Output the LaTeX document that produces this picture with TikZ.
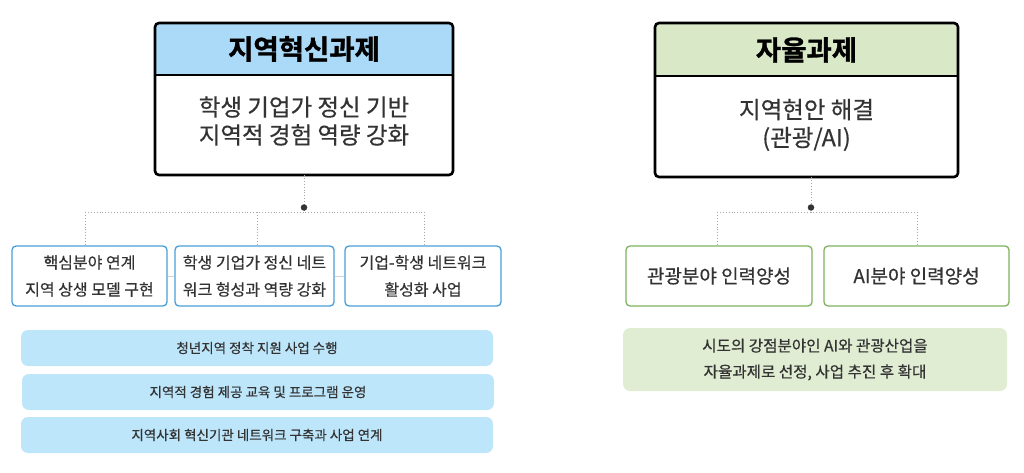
\documentclass[tikz,border=0pt]{standalone}
\usepackage{fontspec}
\setmainfont{Noto Sans CJK KR}
\newfontfamily\medfont{Noto Sans CJK KR}[FakeBold=0.5]
\newfontfamily\heavyfont{Noto Sans CJK KR Bold}[FakeBold=1.2]
\definecolor{hdrblue}{HTML}{ABDAF8}
\definecolor{hdrgreen}{HTML}{D9E9C7}
\definecolor{barblue}{HTML}{BEE6FB}
\definecolor{bargreen}{HTML}{E0EDD3}
\definecolor{bdblue}{HTML}{4A9FD8}
\definecolor{bdgreen}{HTML}{7DB35F}
\definecolor{txt}{HTML}{333333}
\tikzset{
  bigbox/.style={draw=black, line width=2.6pt, rounded corners=4pt, inner sep=0pt, outer sep=0pt},
  subblue/.style={draw=bdblue, line width=1.3pt, fill=white, rounded corners=4pt, inner sep=0pt, align=center, text=txt, font=\medfont\fontsize{16}{27}\selectfont},
  subgreen/.style={draw=bdgreen, line width=1.3pt, fill=white, rounded corners=4pt, inner sep=0pt, align=center, text=txt, font=\medfont\fontsize{19}{27}\selectfont},
  barb/.style={fill=barblue, rounded corners=7pt, inner sep=0pt, align=center, text=txt, font=\medfont\fontsize{13.5}{20}\selectfont},
  barg/.style={fill=bargreen, rounded corners=7pt, inner sep=0pt, align=center, text=txt, font=\medfont\fontsize{15.6}{26}\selectfont},
  dotline/.style={draw=gray!70, dotted, line width=0.9pt},
  hubdot/.style={circle, fill=black!80, inner sep=0pt, minimum size=6.5pt},
  title/.style={font=\heavyfont\fontsize{27.5}{30}\selectfont, text=black},
  bodytxt/.style={font=\medfont\fontsize{23.5}{28}\selectfont, text=txt, align=center},
}
\begin{document}
\begin{tikzpicture}[x=1pt,y=-1pt]
\useasboundingbox (0,0) rectangle (1024,473);
% ---- left big box
\fill[hdrblue] (155,75) [rounded corners=4pt] -- (155,23) -- (453,23) [sharp corners] -- (453,75) -- cycle;
\node[bigbox, minimum width=298pt, minimum height=152pt] (lbox) at (304,99) {};
\draw[line width=2pt] (155,75) -- (453,75);
\node[title] (ltitle) at (304,49) {지역혁신과제};
\node[bodytxt] (lbody) at (304,121) {학생 기업가 정신 기반\\지역적 경험 역량 강화};
% ---- right big box
\fill[hdrgreen] (655,76) [rounded corners=4pt] -- (655,23) -- (958,23) [sharp corners] -- (958,76) -- cycle;
\node[bigbox, minimum width=303pt, minimum height=154pt] (rbox) at (806.5,100) {};
\draw[line width=2pt] (655,76) -- (958,76);
\node[title] (rtitle) at (806.5,50) {자율과제};
\node[bodytxt] (rbody) at (806.5,125) {지역현안 해결\\(관광/AI)};
% ---- left sub boxes
\node[subblue, minimum width=155pt, minimum height=60pt] (b1) at (89.5,276) {핵심분야 연계\\지역 상생 모델 구현};
\node[subblue, minimum width=159pt, minimum height=60pt] (b2) at (254.5,276) {학생 기업가 정신 네트\\워크 형성과 역량 강화};
\node[subblue, minimum width=156pt, minimum height=60pt] (b3) at (423,276) {기업-학생 네트워크\\활성화 사업};
\draw[gray!35, line width=1pt] (b1.east) -- (b2.west);
\draw[gray!35, line width=1pt] (b2.east) -- (b3.west);
% connectors left
\coordinate (lh1) at (85,212);
\coordinate (lh2) at (257,212);
\coordinate (lh3) at (424,212);
\coordinate (lhub) at (304,212);
\draw[dotline] (lbox.south) -- (lhub);
\draw[dotline] (lh1) -- (lh3);
\draw[dotline] (lh1) -- (lh1 |- b1.north);
\draw[dotline] (lh2) -- (lh2 |- b2.north);
\draw[dotline] (lh3) -- (lh3 |- b3.north);
\node[hubdot] (ldot) at (304,207.5) {};
% ---- right sub boxes
\node[subgreen, minimum width=186pt, minimum height=60pt] (g1) at (719,276) {관광분야 인력양성};
\node[subgreen, minimum width=185pt, minimum height=60pt] (g2) at (916.5,276) {AI분야 인력양성};
\coordinate (rh1) at (717,212);
\coordinate (rh2) at (917,212);
\coordinate (rhub) at (811,212);
\draw[dotline] (rbox.south -| rhub) -- (rhub);
\draw[dotline] (rh1) -- (rh2);
\draw[dotline] (rh1) -- (rh1 |- g1.north);
\draw[dotline] (rh2) -- (rh2 |- g2.north);
\node[hubdot] (rdot) at (811,207.5) {};
% ---- bars
\node[barb, minimum width=472pt, minimum height=36pt] (p1) at (257,348) {청년지역 정착 지원 사업 수행};
\node[barb, minimum width=472pt, minimum height=36pt] (p2) at (258,392) {지역적 경험 제공 교육 및 프로그램 운영};
\node[barb, minimum width=472pt, minimum height=36pt] (p3) at (257,435) {지역사회 혁신기관 네트워크 구축과 사업 연계};
\node[barg, minimum width=384pt, minimum height=63pt] (q1) at (815,359.5) {시도의 강점분야인 AI와 관광산업을\\자율과제로 선정, 사업 추진 후 확대};
\end{tikzpicture}
\end{document}
